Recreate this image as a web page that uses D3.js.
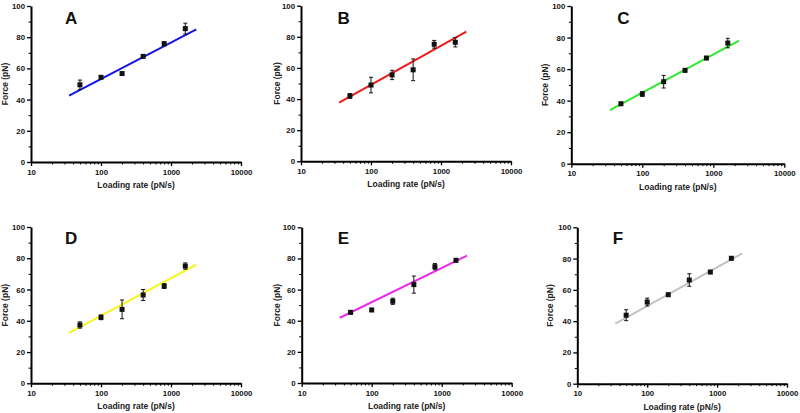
<!DOCTYPE html>
<html><head><meta charset="utf-8">
<script src="https://cdn.jsdelivr.net/npm/d3@7"></script>
<style>
html,body{margin:0;padding:0;background:#fff;}
svg text{font-family:"Liberation Sans",Arial,sans-serif;font-weight:bold;}
</style></head>
<body>
<svg id="chart" width="800" height="413"></svg>
<script>
// ---- data ----
const panelLabels = ["A","B","C","D","E","F"];
const loadingRates = [50, 100, 200, 400, 800, 1600];
const forceA = [49.5, 54.3, 56.7, 67.7, 75.8, 85.5];
const errA   = [3, 0.8, 0.6, 0.6, 1.2, 3.5];
const forceB = [42, 49, 55.5, 58.8, 75.2, 76.5];
const errB   = [1.5, 5, 3, 7, 2.5, 3];
const forceC = [38, 44.2, 52, 59.2, 67, 76.5];
const errC   = [1, 1.5, 4, 1, 1, 3];
const forceD = [37.3, 42.2, 47.3, 56.5, 62.2, 75];
const errD   = [2, 1.5, 6, 3.5, 1.5, 2];
const forceE = [45.4, 46.9, 52.5, 63.2, 74.7, 78.8];
const errE   = [1, 1, 2, 5.5, 2, 1];
const forceF = [43.8, 52.2, 56.9, 66.3, 71.4, 80.2];
const errF   = [3.5, 2.5, 1, 4, 1, 1];
const fitRange = [35, 2300];
const fitA = [42.5, 85];
const fitB = [37.7, 83.3];
const fitC = [34, 78];
const fitD = [32.2, 75.9];
const fitE = [41.9, 81.8];
const fitF = [38.4, 83.4];
const xTicks = [10, 100, 1000, 10000];
const yTicks = [0, 20, 40, 60, 80, 100];
const xTitle = "Loading rate (pN/s)";
const yTitle = "Force (pN)";

const seriesForce = [forceA, forceB, forceC, forceD, forceE, forceF];
const seriesErr = [errA, errB, errC, errD, errE, errF];
const seriesFit = [fitA, fitB, fitC, fitD, fitE, fitF];

// ---- layout / style ----
const lineColors = ["#1414e6", "#ee1a1a", "#2ee82e", "#f6f61a", "#ec2aec", "#c4c4c4"];
const boxes = [
  {l:31, r:241, t:6, b:162, lx:34, ly:18, yt:26},
  {l:301, r:511, t:5.7, b:161.3, lx:36.5, ly:18.3, yt:24.5},
  {l:571.3, r:784.3, t:6, b:163.7, lx:46, ly:18, yt:26},
  {l:31, r:241, t:227, b:383.3, lx:34, ly:17.3, yt:26},
  {l:301.7, r:511.7, t:227.3, b:383, lx:36, ly:17, yt:25},
  {l:577.3, r:787, t:227.3, b:383.7, lx:35.4, ly:17, yt:27}
];

const svg = d3.select("#chart");

boxes.forEach((bx, i) => {
  const g = svg.append("g");
  const x = d3.scaleLog().domain([10, 10000]).range([bx.l, bx.r]);
  const y = d3.scaleLinear().domain([0, 100]).range([bx.b, bx.t]);

  // minor ticks x
  const minorX = [];
  for (let d = 10; d < 10000; d *= 10) for (let k = 2; k <= 9; k++) minorX.push(d * k);
  const gx = g.append("g").attr("transform", `translate(0,${bx.b})`)
    .call(d3.axisBottom(x).tickValues(minorX).tickSize(2.5).tickFormat(""));
  gx.select(".domain").remove();
  gx.selectAll("line").attr("stroke", "#000").attr("stroke-width", 1);

  const gx2 = g.append("g").attr("transform", `translate(0,${bx.b})`)
    .call(d3.axisBottom(x).tickValues(xTicks).tickSize(4).tickSizeOuter(0).tickPadding(3).tickFormat(d3.format("d")));
  gx2.select(".domain").attr("stroke", "#000").attr("stroke-width", 2);
  gx2.selectAll("line").attr("stroke", "#000").attr("stroke-width", 1.3);
  gx2.selectAll("text").attr("font-size", 7.8).attr("fill", "#111");

  const gyMinor = g.append("g").attr("transform", `translate(${bx.l},0)`)
    .call(d3.axisLeft(y).tickValues([10,30,50,70,90]).tickSize(2.5).tickFormat(""));
  gyMinor.select(".domain").remove();
  gyMinor.selectAll("line").attr("stroke", "#000").attr("stroke-width", 1);

  const gy = g.append("g").attr("transform", `translate(${bx.l},0)`)
    .call(d3.axisLeft(y).tickValues(yTicks).tickSize(4).tickSizeOuter(0).tickPadding(2));
  gy.select(".domain").attr("stroke", "#000").attr("stroke-width", 2);
  gy.selectAll("line").attr("stroke", "#000").attr("stroke-width", 1.3);
  gy.selectAll("text").attr("font-size", 7.8).attr("fill", "#111");

  // titles
  g.append("text").attr("x", (bx.l + bx.r) / 2).attr("y", bx.b + 26)
    .attr("text-anchor", "middle").attr("font-size", 8.5).attr("fill", "#222").text(xTitle);
  g.append("text")
    .attr("transform", `translate(${bx.l - bx.yt + 3},${(bx.t + bx.b) / 2}) rotate(-90)`)
    .attr("text-anchor", "middle").attr("font-size", 8.5).attr("fill", "#222").text(yTitle);

  // panel letter
  g.append("text").attr("x", bx.l + bx.lx).attr("y", bx.t + bx.ly)
    .attr("font-size", 17).attr("fill", "#111").text(panelLabels[i]);

  // fit line
  const fit = seriesFit[i];
  g.append("line")
    .attr("x1", x(fitRange[0])).attr("y1", y(fit[0]))
    .attr("x2", x(fitRange[1])).attr("y2", y(fit[1]))
    .attr("stroke", lineColors[i]).attr("stroke-width", 2);

  // error bars and points
  const pts = loadingRates.map((r, j) => ({r, f: seriesForce[i][j], e: seriesErr[i][j]}));
  const eb = g.append("g").attr("stroke", "#111").attr("stroke-width", 1);
  pts.forEach(p => {
    const cx = x(p.r);
    eb.append("line").attr("x1", cx).attr("x2", cx).attr("y1", y(p.f + p.e)).attr("y2", y(p.f - p.e));
    eb.append("line").attr("x1", cx - 2).attr("x2", cx + 2).attr("y1", y(p.f + p.e)).attr("y2", y(p.f + p.e));
    eb.append("line").attr("x1", cx - 2).attr("x2", cx + 2).attr("y1", y(p.f - p.e)).attr("y2", y(p.f - p.e));
  });
  g.append("g").selectAll("rect").data(pts).join("rect")
    .attr("x", d => x(d.r) - 2.5).attr("y", d => y(d.f) - 2.5)
    .attr("width", 5).attr("height", 5).attr("fill", "#111");
});
</script>
</body></html>
